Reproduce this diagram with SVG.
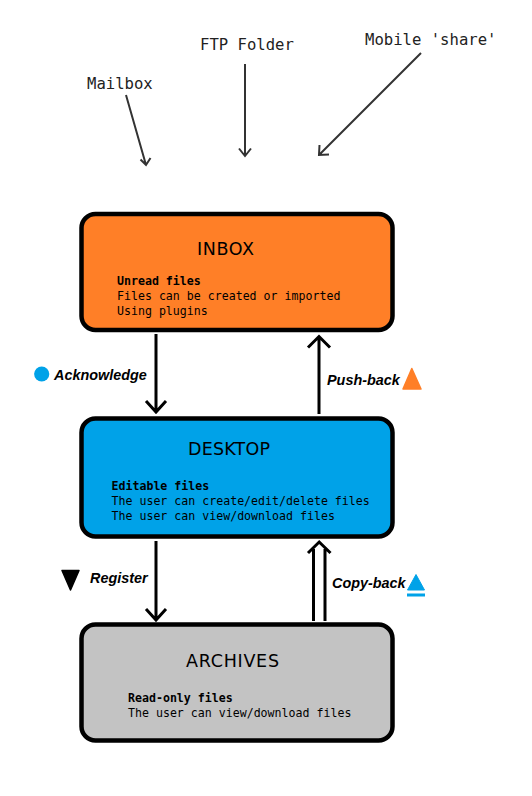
<svg xmlns="http://www.w3.org/2000/svg" width="532" height="796" viewBox="0 0 532 796">
<style>
.src{font-family:"DejaVu Sans Mono","Liberation Mono",monospace;font-size:15.6px;fill:#222}
.box{stroke:#000;stroke-width:4.5}
.title{font-family:"DejaVu Sans","Liberation Sans",sans-serif;font-size:17.5px;fill:#000}
.body{font-family:"DejaVu Sans Mono","Liberation Mono",monospace;font-size:11.6px;fill:#000}
.b{font-weight:bold}
.lbl{font-family:"Liberation Sans",Arial,sans-serif;font-size:14.4px;font-weight:bold;font-style:italic;fill:#000}
.thin{fill:none;stroke:#333;stroke-width:2}
.thick{fill:none;stroke:#000;stroke-width:3}
</style>
<rect width="532" height="796" fill="#fff"/>
<g id="sources">
<text class="src" x="87" y="89">Mailbox</text>
<text class="src" x="200" y="50">FTP Folder</text>
<text class="src" x="365" y="45">Mobile 'share'</text>
</g>
<g id="connectors">
<path class="thin" d="M126 95 L146 165 M140.5 159.5 L146 165 L150.5 158"/>
<path class="thin" d="M245 64 L245 156 M239 148.5 L245 156 L251 148.5"/>
<path class="thin" d="M421 53 L319 155 M319.5 145 L319 155 L329 154.5"/>
<path class="thick" d="M156 334 L156 412 M146 401 L156 412 L166 401"/>
<path class="thick" d="M319 414 L319 337 M308 347.5 L319 336.5 L330 347.5"/>
<path class="thick" d="M156 541 L156 620 M146 609 L156 620 L166 609"/>
<path class="thick" d="M313.5 621 L313.5 549 M325 621 L325 549 M308 553 L319.2 542 L330.5 553"/>
</g>
<g id="inbox">
<rect class="box" x="81.5" y="214" width="311" height="116" rx="14" fill="#FF7F27"/>
<text class="title" x="197" y="255" textLength="57">INBOX</text>
<text class="body b" x="117" y="285">Unread files</text>
<text class="body" x="117" y="300">Files can be created or imported</text>
<text class="body" x="117" y="315">Using plugins</text>
</g>
<g id="desktop">
<rect class="box" x="81.5" y="418.5" width="311" height="118" rx="14" fill="#00A2E8"/>
<text class="title" x="188" y="455" textLength="82">DESKTOP</text>
<text class="body b" x="111.5" y="490">Editable files</text>
<text class="body" x="111.5" y="505">The user can create/edit/delete files</text>
<text class="body" x="111.5" y="520">The user can view/download files</text>
</g>
<g id="archives">
<rect class="box" x="81.5" y="624.5" width="311" height="116" rx="14" fill="#C3C3C3"/>
<text class="title" x="186" y="667" textLength="93">ARCHIVES</text>
<text class="body b" x="128" y="702">Read-only files</text>
<text class="body" x="128" y="717">The user can view/download files</text>
</g>
<g id="acknowledge">
<circle cx="41.7" cy="374" r="7.6" fill="#00A2E8"/>
<text class="lbl" x="54" y="380">Acknowledge</text>
</g>
<g id="push-back">
<text class="lbl" x="327" y="385">Push-back</text>
<path d="M411.8 368.5 L421 389 L403 389 Z" fill="#FF7F27" stroke="#FF7F27" stroke-width="1.5" stroke-linejoin="round"/>
</g>
<g id="register">
<path d="M62 570.5 L79 570.5 L70.5 590 Z" fill="#000" stroke="#000" stroke-width="1.5" stroke-linejoin="round"/>
<text class="lbl" x="90" y="583">Register</text>
</g>
<g id="copy-back">
<text class="lbl" x="332" y="588">Copy-back</text>
<path d="M416 574.5 L424.5 590 L407.5 590 Z" fill="#00A2E8" stroke="#00A2E8" stroke-width="1" stroke-linejoin="round"/>
<rect x="407" y="593.5" width="18" height="3" fill="#00A2E8"/>
</g>
</svg>
